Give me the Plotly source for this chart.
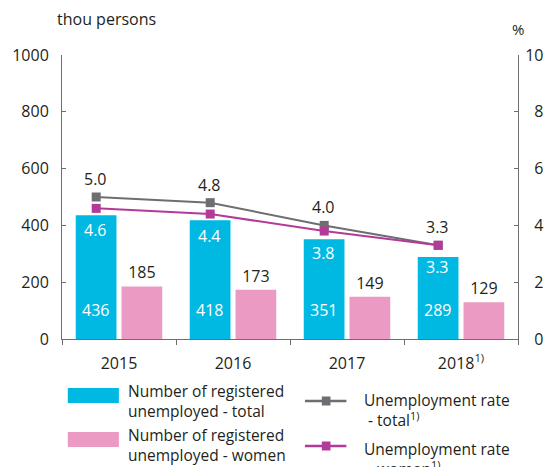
import plotly.graph_objects as go

# ---- data ----
years = ["2015", "2016", "2017", "2018"]
year_labels = ["2015", "2016", "2017", "2018<sup>1)</sup>"]
unemployed_total = [436, 418, 351, 289]
unemployed_women = [185, 173, 149, 129]
rate_total = [5.0, 4.8, 4.0, 3.3]
rate_women = [4.6, 4.4, 3.8, 3.3]
left_ticks = [0, 200, 400, 600, 800, 1000]
right_ticks = [0, 2, 4, 6, 8, 10]

legend_names = [
    "Number of registered<br>unemployed - total",
    "Number of registered<br>unemployed - women",
    "Unemployment rate<br> - total<sup>1)</sup>",
    "Unemployment rate<br> - women<sup>1)</sup>",
]

# ---- style ----
CYAN = "#00B9E3"
PINK = "#EB9AC3"
GRAY = "#6D6E71"
MAGENTA = "#B43A9A"
TXT = "#231F20"
AXIS = "#6D6E71"
FONT = "Open Sans, Noto Sans, sans-serif"

W, H = 555, 467
ML, MR, MT, MB = 56, 26, 55, 128
PW = W - ML - MR
PH = H - MT - MB
BARGAP = 0.197
BARGROUPGAP = 0.11
# horizontal pixel offset of the first bar of each group from the category centre
SLOT_SHIFT = -(PW / len(years)) * (1 - BARGAP) / 4


def px(x):
    return (x - ML) / PW


def py(y):
    return (H - MB - y) / PH


fig = go.Figure()

fig.add_trace(go.Bar(
    x=years, y=unemployed_total, marker=dict(color=CYAN, line=dict(width=0)),
    name=legend_names[0], showlegend=False, hoverinfo="skip",
))
fig.add_trace(go.Bar(
    x=years, y=unemployed_women, marker=dict(color=PINK, line=dict(width=0)),
    text=[str(v) for v in unemployed_women], textposition="outside",
    textfont=dict(color=TXT, size=16, family=FONT), cliponaxis=False,
    name=legend_names[1], showlegend=False, hoverinfo="skip",
))
fig.add_trace(go.Scatter(
    x=years, y=rate_total, xaxis="x2", yaxis="y2", mode="lines+markers",
    line=dict(color=GRAY, width=2), marker=dict(symbol="square", size=9, color=GRAY),
    cliponaxis=False, name=legend_names[2], showlegend=False, hoverinfo="skip",
))
fig.add_trace(go.Scatter(
    x=years, y=rate_women, xaxis="x2", yaxis="y2", mode="lines+markers",
    line=dict(color=MAGENTA, width=2), marker=dict(symbol="square", size=9, color=MAGENTA),
    cliponaxis=False, name=legend_names[3], showlegend=False, hoverinfo="skip",
))

annotations = []
# values inside the cyan bars (near the bottom); x given as category index
for i, v in enumerate(unemployed_total):
    annotations.append(dict(
        x=i, xref="x", y=0, yref="y", xshift=SLOT_SHIFT, yshift=29, text=str(v),
        showarrow=False, font=dict(color="white", size=16, family=FONT),
        xanchor="center", yanchor="middle",
    ))
# rate labels
for i, v in enumerate(rate_total):
    annotations.append(dict(
        x=i, xref="x", y=v, yref="y2", xshift=SLOT_SHIFT, yshift=18, text=f"{v:.1f}",
        showarrow=False, font=dict(color=TXT, size=16, family=FONT),
        xanchor="center", yanchor="middle",
    ))
for i, v in enumerate(rate_women):
    annotations.append(dict(
        x=i, xref="x", y=v, yref="y2", xshift=SLOT_SHIFT, yshift=-22, text=f"{v:.1f}",
        showarrow=False, font=dict(color="white", size=16, family=FONT),
        xanchor="center", yanchor="middle",
    ))

# axis titles
annotations.append(dict(x=px(49), y=py(19), xref="paper", yref="paper", text="thou persons",
                        showarrow=False, xanchor="left", yanchor="middle",
                        font=dict(color=TXT, size=16, family=FONT)))
annotations.append(dict(x=px(521), y=py(29), xref="paper", yref="paper", text="%",
                        showarrow=False, xanchor="left", yanchor="middle",
                        font=dict(color=TXT, size=15, family=FONT)))

# manual legend
shapes = []
shapes.append(dict(type="rect", xref="paper", yref="paper", x0=px(62), x1=px(115),
                   y0=py(403), y1=py(388), fillcolor=CYAN, line=dict(width=0)))
shapes.append(dict(type="rect", xref="paper", yref="paper", x0=px(62), x1=px(115),
                   y0=py(447), y1=py(432), fillcolor=PINK, line=dict(width=0)))
for col, yy in ((GRAY, 401), (MAGENTA, 446)):
    shapes.append(dict(type="line", xref="paper", yref="paper", x0=px(308), x1=px(351),
                       y0=py(yy), y1=py(yy), line=dict(color=col, width=2.5)))
    shapes.append(dict(type="rect", xref="paper", yref="paper", x0=px(325.5), x1=px(334.5),
                       y0=py(yy + 4.5), y1=py(yy - 4.5), fillcolor=col, line=dict(width=0)))

leg_text = [(122, 400.5, legend_names[0]), (122, 445, legend_names[1]),
            (367, 410, legend_names[2]), (367, 459, legend_names[3])]
for xx, yy, t in leg_text:
    annotations.append(dict(x=px(xx), y=py(yy), xref="paper", yref="paper", text=t,
                            showarrow=False, xanchor="left", yanchor="middle", align="left",
                            font=dict(color=TXT, size=15.5, family=FONT)))

fig.update_layout(
    width=W, height=H, autosize=False,
    margin=dict(l=ML, r=MR, t=MT, b=MB, pad=0),
    paper_bgcolor="white", plot_bgcolor="white",
    barmode="group", bargap=BARGAP, bargroupgap=BARGROUPGAP,
    font=dict(family=FONT, color=TXT, size=16),
    showlegend=False,
    xaxis=dict(
        type="category", categoryarray=years, range=[-0.5, 3.5],
        tickvals=years, ticktext=year_labels, tickson="boundaries",
        ticks="outside", ticklen=5, tickcolor=AXIS, tickwidth=1,
        showline=True, linecolor=AXIS, linewidth=1, showgrid=False, zeroline=False,
        tickfont=dict(size=16, color=TXT), ticklabelstandoff=10,
    ),
    xaxis2=dict(
        type="category", categoryarray=years, range=[-0.3, 3.7],
        overlaying="x", visible=False, showgrid=False,
    ),
    yaxis=dict(
        range=[0, 1000], tickvals=left_ticks, ticks="inside", ticklen=4,
        tickcolor=AXIS, showline=True, linecolor=AXIS, linewidth=1,
        showgrid=False, zeroline=False, tickfont=dict(size=16, color=TXT),
        ticklabelstandoff=9,
    ),
    yaxis2=dict(
        range=[0, 10], tickvals=right_ticks,
        ticktext=[("\u2007" + str(v)) if v < 10 else str(v) for v in right_ticks],
        overlaying="y", side="right", ticks="inside", ticklen=4,
        tickcolor=AXIS, showline=True, linecolor=AXIS, linewidth=1,
        showgrid=False, zeroline=False, tickfont=dict(size=16, color=TXT),
        ticklabelstandoff=3,
    ),
    annotations=annotations,
    shapes=shapes,
)

fig.write_html(
    "out.html",
    config={"responsive": False, "displayModeBar": False},
    post_script="document.body.style.margin='0';document.body.style.padding='0';"
                "document.body.style.overflow='hidden';",
)
